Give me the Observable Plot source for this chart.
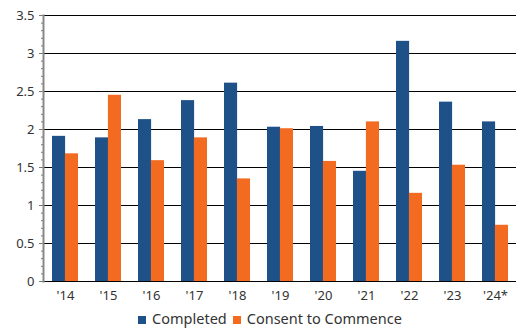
<!DOCTYPE html>
<html>
<head>
<meta charset="utf-8">
<script src="https://cdn.jsdelivr.net/npm/d3@7"></script>
<script src="https://cdn.jsdelivr.net/npm/@observablehq/plot@0.6"></script>
<style>
  html, body { margin: 0; padding: 0; background: #fff; }
  #chart { width: 516px; font-family: "Noto Sans", sans-serif; }
  .legend { display: flex; justify-content: center; align-items: center; gap: 6px;
            font-size: 14.5px; color: #333; height: 22px; margin-left: 24px; margin-top: 1px; }
  .legend span.sw { display: inline-block; width: 8px; height: 8px; margin-right: 6px; margin-top: 3px; }
  .legend .item { display: flex; align-items: center; }
</style>
</head>
<body>
<div id="chart"></div>
<script>
// Years on the x axis
const years = ["'14", "'15", "'16", "'17", "'18", "'19", "'20", "'21", "'22", "'23", "'24*"];
// Series values
const completed = [1.91, 1.89, 2.13, 2.38, 2.61, 2.03, 2.04, 1.45, 3.16, 2.36, 2.10];
const consent   = [1.68, 2.45, 1.59, 1.89, 1.35, 2.01, 1.58, 2.10, 1.16, 1.53, 0.74];
const seriesNames = ["Completed", "Consent to Commence"];
const colors = ["#1f5189", "#f26b21"];
// Y axis ticks
const yTicks = [0, 0.5, 1, 1.5, 2, 2.5, 3, 3.5];
const yMinor = d3.range(0, 3.501, 0.1).map(v => +v.toFixed(1));

const width = 516, marginLeft = 43, marginRight = 0;
const step = (width - marginLeft - marginRight) / years.length;
const half = step * 0.6 / 2;

const rows = years.map((y, i) => ({year: y, completed: completed[i], consent: consent[i]}));

const chart = Plot.plot({
  width,
  height: 306,
  marginLeft,
  marginRight,
  marginTop: 15,
  marginBottom: 25,
  style: {fontFamily: "Noto Sans, sans-serif", fontSize: "13px", color: "#333", background: "#fff"},
  x: {domain: years, paddingInner: 0.4, paddingOuter: 0.2, label: null},
  y: {domain: [0, 3.5], label: null},
  marks: [
    Plot.ruleY(yTicks, {stroke: "#000", strokeWidth: 1}),
    Plot.barY(rows, {x: "year", y: "completed", fill: colors[0], insetRight: half}),
    Plot.barY(rows, {x: "year", y: "consent", fill: colors[1], insetLeft: half}),
    Plot.axisX({tickSize: 0, tickPadding: 9, fontSize: 13}),
    Plot.axisY({ticks: yMinor, tickSize: 2, text: null, stroke: "#777"}),
    Plot.axisY({ticks: yTicks, tickSize: 4, tickPadding: 5, stroke: "#777", fontSize: 13, tickFormat: d3.format("")}),
    Plot.frame({anchor: "left", stroke: "#888", strokeWidth: 2})
  ]
});

const root = document.getElementById("chart");
root.appendChild(chart);

const legend = document.createElement("div");
legend.className = "legend";
seriesNames.forEach((name, i) => {
  const item = document.createElement("div");
  item.className = "item";
  item.innerHTML = `<span class="sw" style="background:${colors[i]}"></span>${name}`;
  legend.appendChild(item);
});
root.appendChild(legend);
</script>
</body>
</html>
